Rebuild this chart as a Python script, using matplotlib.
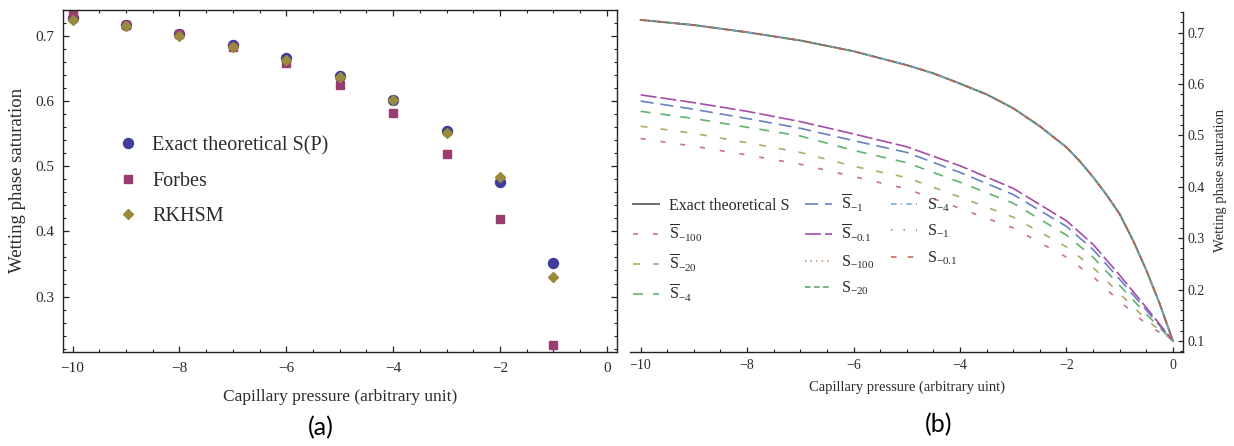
import matplotlib
matplotlib.use("Agg")
import matplotlib.pyplot as plt
from matplotlib.ticker import MultipleLocator, FormatStrFormatter

plt.rcParams["font.family"] = ["Liberation Serif", "DejaVu Serif"]
plt.rcParams["mathtext.fontset"] = "custom"
plt.rcParams["mathtext.rm"] = "Liberation Serif"
plt.rcParams["mathtext.it"] = "Liberation Serif:italic"
plt.rcParams["lines.scale_dashes"] = False
plt.rcParams["axes.unicode_minus"] = True

# (a) point comparison
p_pts = [-10, -9, -8, -7, -6, -5, -4, -3, -2, -1]
s_exact_pts = [0.727, 0.716, 0.702, 0.685, 0.665, 0.638, 0.602, 0.553, 0.476, 0.351]
s_forbes = [0.732, 0.716, 0.703, 0.683, 0.658, 0.624, 0.581, 0.519, 0.419, 0.226]
s_rkhsm = [0.724, 0.715, 0.700, 0.683, 0.662, 0.636, 0.601, 0.551, 0.483, 0.330]

# (b) curves
p_exact = [-10, -9, -8, -7, -6, -5, -4.5, -4, -3.5, -3, -2.5, -2, -1.75, -1.5,
           -1.25, -1, -0.75, -0.5, -0.25, 0]
s_exact = [0.725, 0.715, 0.701, 0.685, 0.664, 0.637, 0.621, 0.601, 0.580, 0.553,
           0.518, 0.477, 0.450, 0.419, 0.385, 0.347, 0.296, 0.238, 0.173, 0.100]

p_bar = [-10, -9, -8, -7, -6, -5, -4, -3, -2, -1.5, -1, -0.5, 0]
sbar_m01 = [0.579, 0.564, 0.547, 0.527, 0.503, 0.478, 0.441, 0.397, 0.334, 0.288, 0.228, 0.165, 0.100]
sbar_m1 = [0.567, 0.551, 0.533, 0.514, 0.490, 0.467, 0.428, 0.385, 0.323, 0.278, 0.220, 0.160, 0.100]
sbar_m4 = [0.547, 0.533, 0.516, 0.499, 0.471, 0.447, 0.409, 0.368, 0.306, 0.263, 0.208, 0.152, 0.100]
sbar_m20 = [0.518, 0.504, 0.486, 0.467, 0.440, 0.418, 0.380, 0.341, 0.283, 0.243, 0.192, 0.142, 0.100]
sbar_m100 = [0.494, 0.479, 0.462, 0.444, 0.420, 0.396, 0.358, 0.320, 0.263, 0.225, 0.177, 0.133, 0.100]

fig = plt.figure(figsize=(12.34, 4.46), dpi=100)
W, H = 1234, 446
TXT = "#2b2b2b"

# ---------- (a) ----------
ax1 = fig.add_axes([63 / W, 94 / H, 554 / W, 342.5 / H])
ax1.plot(p_pts, s_exact_pts, "o", color="#3f3d99", ms=7.2, label="Exact theoretical S(P)")
ax1.plot(p_pts, s_forbes, "s", color="#993d71", ms=5.8, label="Forbes")
ax1.plot(p_pts, s_rkhsm, "D", color="#998b3d", ms=4.6, label="RKHSM")
ax1.set_xlim(-10.18, 0.19)
ax1.set_ylim(0.215, 0.740)
ax1.xaxis.set_major_locator(MultipleLocator(2))
ax1.xaxis.set_minor_locator(MultipleLocator(0.5))
ax1.yaxis.set_major_locator(MultipleLocator(0.1))
ax1.yaxis.set_minor_locator(MultipleLocator(0.02))
ax1.yaxis.set_major_formatter(FormatStrFormatter("%.1f"))
ax1.tick_params(which="both", direction="in", top=True, right=True, color="#222222",
                labelcolor=TXT, labelsize=11)
ax1.tick_params(which="major", length=4.5, width=0.9)
ax1.tick_params(which="minor", length=2.5, width=0.8)
ax1.tick_params(axis="x", pad=7)
ax1.tick_params(axis="y", pad=6)
for sp in ax1.spines.values():
    sp.set_color("#222222")
    sp.set_linewidth(1.0)
ax1.set_xlabel("Capillary pressure (arbitrary unit)", fontsize=12.5, color=TXT)
ax1.set_ylabel("Wetting phase saturation", fontsize=13.5, color=TXT)
ax1.xaxis.set_label_coords(0.5, -0.108)
ax1.yaxis.set_label_coords(-0.067, 0.502)
ax1.legend(loc="upper left", bbox_to_anchor=(0.099, 0.63), frameon=False, fontsize=14.5,
           handlelength=1.0, handletextpad=0.7, labelspacing=0.8, borderpad=0,
           borderaxespad=0, labelcolor=TXT)

# ---------- (b) ----------
ax2 = fig.add_axes([630 / W, 94.3 / H, 553 / W, 340 / H])
bar_styles = [
    (sbar_m100, "#c96d9d", (0, (3.6, 10.8)), r"$\overline{\mathrm{S}}_{-100}$"),
    (sbar_m20, "#b6a767", (0, (5.0, 9.4)), r"$\overline{\mathrm{S}}_{-20}$"),
    (sbar_m4, "#5fb46f", (0, (7.2, 7.2)), r"$\overline{\mathrm{S}}_{-4}$"),
    (sbar_m1, "#6680c2", (0, (9.4, 5.0)), r"$\overline{\mathrm{S}}_{-1}$"),
    (sbar_m01, "#a64ca6", (0, (11.5, 2.9)), r"$\overline{\mathrm{S}}_{-0.1}$"),
]
s_styles = [
    ("#b7875e", (0, (1.0, 3.0)), r"$\mathrm{S}_{-100}$"),
    ("#4f9f5f", (0, (4.0, 2.5)), r"$\mathrm{S}_{-20}$"),
    ("#6aaecc", (0, (4.0, 3.0, 1.0, 3.0)), r"$\mathrm{S}_{-4}$"),
    ("#a05aa8", (0, (1.0, 8.0)), r"$\mathrm{S}_{-1}$"),
    ("#c06050", (0, (4.0, 8.0)), r"$\mathrm{S}_{-0.1}$"),
]

handles = []
h_exact, = ax2.plot(p_exact, s_exact, color="#6b6b6b", lw=1.4, label="Exact theoretical S")
handles.append(h_exact)
for ys, col, ls, lab in bar_styles:
    h, = ax2.plot(p_bar, ys, color=col, lw=1.2, ls=ls, label=lab)
    handles.append(h)
for col, ls, lab in s_styles:
    h, = ax2.plot(p_exact, s_exact, color=col, lw=1.1, ls=ls, label=lab)
    handles.append(h)

ax2.set_xlim(-10.2, 0.19)
ax2.set_ylim(0.079, 0.741)
ax2.spines["left"].set_visible(False)
ax2.spines["top"].set_visible(False)
for sp in ("right", "bottom"):
    ax2.spines[sp].set_color("#222222")
    ax2.spines[sp].set_linewidth(1.0)
ax2.yaxis.tick_right()
ax2.yaxis.set_label_position("right")
ax2.xaxis.set_major_locator(MultipleLocator(2))
ax2.xaxis.set_minor_locator(MultipleLocator(0.5))
ax2.yaxis.set_major_locator(MultipleLocator(0.1))
ax2.yaxis.set_minor_locator(MultipleLocator(0.02))
ax2.yaxis.set_major_formatter(FormatStrFormatter("%.1f"))
ax2.tick_params(which="both", direction="in", color="#222222", labelcolor=TXT, labelsize=10)
ax2.tick_params(which="major", length=3.8, width=0.9)
ax2.tick_params(which="minor", length=2.2, width=0.8)
ax2.tick_params(axis="x", pad=5)
ax2.tick_params(axis="y", pad=3)
ax2.set_xlabel("Capillary pressure (arbitrary uint)", fontsize=10.5, color=TXT)
ax2.set_ylabel("Wetting phase saturation", fontsize=10.5, color=TXT)
ax2.xaxis.set_label_coords(0.501, -0.086)
ax2.yaxis.set_label_coords(1.056, 0.505)
ax2.legend(handles=handles, ncol=3, loc="upper left", bbox_to_anchor=(0.005, 0.467),
           frameon=False, fontsize=11.5, handlelength=1.65, handletextpad=0.6,
           labelspacing=0.55, columnspacing=1.0, borderpad=0, borderaxespad=0,
           labelcolor=TXT)

fig.text(321 / W, 1 - 428 / H, "(a)", ha="center", va="center", fontsize=18,
         family=["Lato", "DejaVu Sans"], color="black")
fig.text(939 / W, 1 - 425 / H, "(b)", ha="center", va="center", fontsize=18,
         family=["Lato", "DejaVu Sans"], color="black")

fig.savefig("out.png", dpi=100)
